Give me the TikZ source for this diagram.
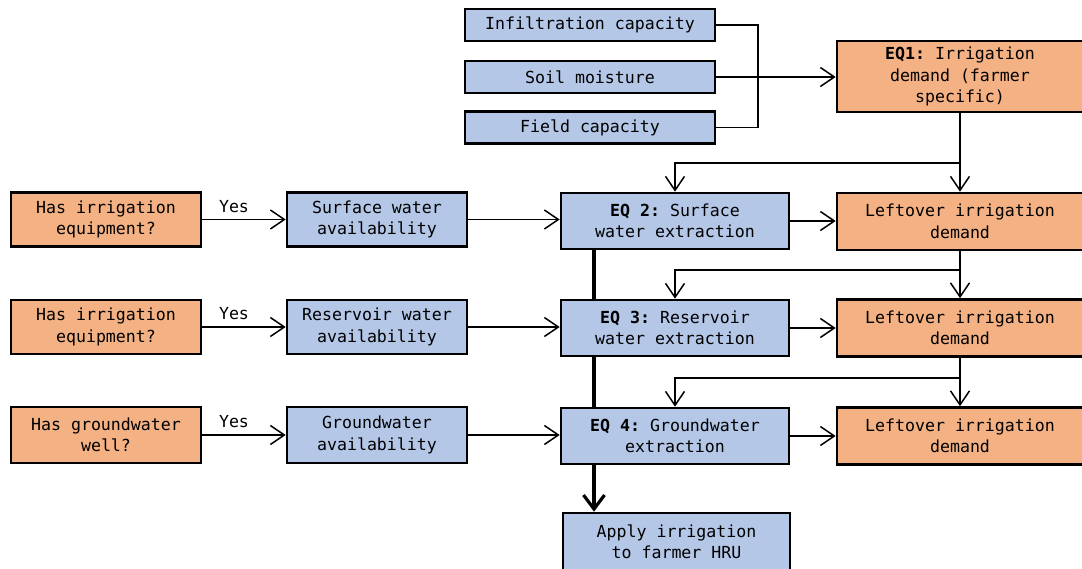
\documentclass[tikz,border=0pt]{standalone}
\usepackage{fontspec}
\setmonofont{DejaVu Sans Mono}
\usetikzlibrary{arrows.meta}
\definecolor{boxblue}{HTML}{B4C7E7}
\definecolor{boxorange}{HTML}{F4B183}
\tikzset{
  txt/.style={font=\ttfamily\fontsize{16.6}{21.5}\selectfont},
  basebox/.style={txt, draw=black, line width=2.6pt, align=center, inner sep=0pt},
  bbox/.style={basebox, fill=boxblue},
  obox/.style={basebox, fill=boxorange},
  conn/.style={line width=1.5pt, black},
  arr/.style={conn, -{Straight Barb[length=14pt,width=19pt,line width=1.5pt]}},
  heavy/.style={line width=3.2pt, black},
  heavyarr/.style={heavy, -{Straight Barb[length=14pt,width=21pt,line width=3.2pt]}},
  lbl/.style={txt, inner sep=0pt}
}
\begin{document}
\begin{tikzpicture}[x=1pt,y=-1pt]
\useasboundingbox (0,0) rectangle (1082,569);
% top inputs
\node[bbox, minimum width=250pt, minimum height=32pt] (inf) at (590,25) {Infiltration capacity};
\node[bbox, minimum width=250pt, minimum height=32pt] (soil) at (590,77) {Soil moisture};
\node[bbox, minimum width=250pt, minimum height=32pt] (field) at (590,127.5) {Field capacity};
\node[obox, minimum width=246pt, minimum height=71pt] (eq1) at (960,76.5) {\textbf{EQ1:} Irrigation\\demand (farmer\\specific)};
% row 1
\node[obox, minimum width=190pt, minimum height=54pt] (has1) at (106,219.5) {Has irrigation\\equipment?};
\node[bbox, minimum width=180pt, minimum height=54pt] (sw) at (377,219.5) {Surface water\\availability};
\node[bbox, minimum width=228pt, minimum height=56pt] (eq2) at (675,221) {\textbf{EQ 2:} Surface\\water extraction};
\node[obox, minimum width=246pt, minimum height=57pt] (lo1) at (960,221.5) {Leftover irrigation\\demand};
% row 2
\node[obox, minimum width=190pt, minimum height=54pt] (has2) at (106,327) {Has irrigation\\equipment?};
\node[bbox, minimum width=180pt, minimum height=54pt] (rw) at (377,327) {Reservoir water\\availability};
\node[bbox, minimum width=228pt, minimum height=56pt] (eq3) at (675,328) {\textbf{EQ 3:} Reservoir\\water extraction};
\node[obox, minimum width=246pt, minimum height=57pt] (lo2) at (960,328) {Leftover irrigation\\demand};
% row 3
\node[obox, minimum width=190pt, minimum height=56pt] (has3) at (106,435) {Has groundwater\\well?};
\node[bbox, minimum width=180pt, minimum height=56pt] (gw) at (377,435) {Groundwater\\availability};
\node[bbox, minimum width=228pt, minimum height=56pt] (eq4) at (675,436) {\textbf{EQ 4:} Groundwater\\extraction};
\node[obox, minimum width=246pt, minimum height=57pt] (lo3) at (960,436) {Leftover irrigation\\demand};
% output
\node[bbox, minimum width=227pt, minimum height=58pt] (apply) at (676.5,542) {Apply irrigation\\to farmer HRU};
% Yes labels
\node[lbl] (y1) at (234,207) {Yes};
\node[lbl] (y2) at (234,314) {Yes};
\node[lbl] (y3) at (234,422) {Yes};
% bracket
\coordinate (br) at (758,0);
\draw[conn] (inf.east) -- (inf.east -| br) -- (field.east -| br) -- (field.east);
\draw[arr] (soil.east) -- (soil.east -| eq1.west);
% demand cascade
\coordinate (b1) at (960,163);
\coordinate (b2) at (960,270);
\coordinate (b3) at (960,378);
\draw[arr] (eq1.south) -- (lo1.north);
\draw[arr] (b1) -| (eq2.north);
\draw[arr] (lo1.south) -- (lo2.north);
\draw[arr] (b2) -| (eq3.north);
\draw[arr] (lo2.south) -- (lo3.north);
\draw[arr] (b3) -| (eq4.north);
% rows
\draw[arr] (has1.east) -- (has1.east -| sw.west);
\draw[arr] (sw.east) -- (sw.east -| eq2.west);
\draw[arr] (eq2.east) -- (eq2.east -| lo1.west);
\draw[arr] (has2.east) -- (has2.east -| rw.west);
\draw[arr] (rw.east) -- (rw.east -| eq3.west);
\draw[arr] (eq3.east) -- (eq3.east -| lo2.west);
\draw[arr] (has3.east) -- (has3.east -| gw.west);
\draw[arr] (gw.east) -- (gw.east -| eq4.west);
\draw[arr] (eq4.east) -- (eq4.east -| lo3.west);
% thick trunk
\draw[heavy] ([xshift=-81pt]eq2.south) -- ([xshift=-81pt]eq3.north);
\draw[heavy] ([xshift=-81pt]eq3.south) -- ([xshift=-81pt]eq4.north);
\draw[heavyarr] ([xshift=-81pt]eq4.south) -- ([xshift=-82.5pt]apply.north);
\end{tikzpicture}
\end{document}
